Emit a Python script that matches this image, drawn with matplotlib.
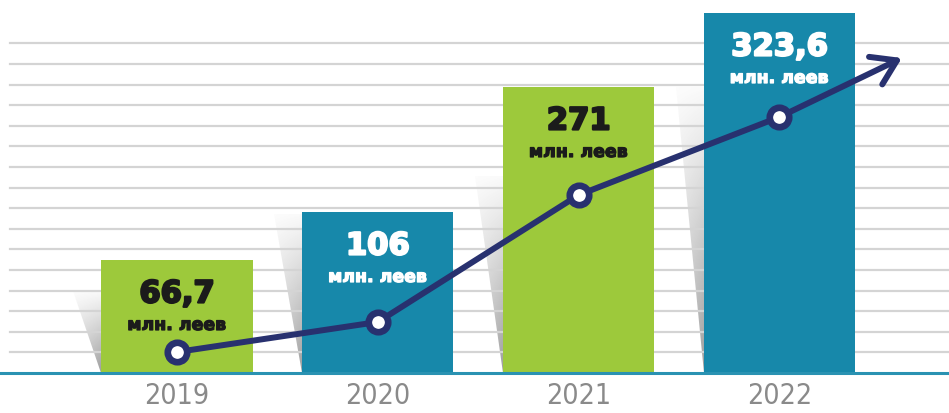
"""Annual volume, million leva, 2019-2022: bars with rising trend arrow.

Outputs
-------
  out.png
"""

import matplotlib
matplotlib.use("Agg")
import matplotlib.pyplot as plt
import matplotlib.patheffects as pe
import numpy as np
from matplotlib.patches import Polygon

YEARS       = ["2019", "2020", "2021", "2022"]
VALUE_TEXT  = ["66,7", "106", "271", "323,6"]
UNIT_TEXT   = "млн. леев"
# drawn bar heights (the original is not to scale)
BAR_HEIGHT  = [113, 161, 286, 360]
TREND       = [21, 51, 178, 256]
SHADOW_TOP  = [82, 159, 197, 286]

GREEN = "#9dc93b"
TEAL  = "#1788aa"
NAVY  = "#28316f"
GRID  = "#d4d4d4"

BAR_COLORS  = [GREEN, TEAL, GREEN, TEAL]
TEXT_COLORS = ["#1b1b1b", "white", "#1b1b1b", "white"]

NUM_FONT  = ["DejaVu Sans"]
YEAR_FONT = ["Liberation Sans Narrow", "DejaVu Sans"]

W_PX, H_PX = 949, 414
BASE_PX    = 40          # baseline height above the bottom edge
BAR_W      = 0.752
GRID_STEP  = 20.6
ARROW_TIP  = (3.61, 315)


def _draw_shadow(ax, x_right, top, width):
    """Grey perspective wedge on the left side of a bar."""
    tri = Polygon([(x_right - width, top), (x_right, top), (x_right, 0)],
                  closed=True, facecolor="none", edgecolor="none")
    ax.add_patch(tri)
    ny, nx = 64, 16
    yy = np.linspace(1, 0, ny)[:, None]
    xx = np.linspace(0, 1, nx)[None, :]
    img = np.zeros((ny, nx, 4))
    img[..., :3] = 0.45
    img[..., 3] = (0.04 + 0.65 * (1 - yy)) * (0.55 + 0.45 * xx)
    im = ax.imshow(img, extent=(x_right - width, x_right, 0, top),
                   origin="upper", aspect="auto", interpolation="bilinear",
                   zorder=0.5)
    im.set_clip_path(tri)


def main():
    fig = plt.figure(figsize=(W_PX / 100, H_PX / 100), dpi=100)
    ax = fig.add_axes([0, BASE_PX / H_PX, 1, 1 - BASE_PX / H_PX])

    x = np.arange(len(YEARS))

    for k in range(1, 17):
        ax.axhline(k * GRID_STEP, xmin=10 / W_PX, color=GRID, lw=1.6, zorder=1)

    for xi, top in zip(x, SHADOW_TOP):
        _draw_shadow(ax, xi - BAR_W / 2, top, 0.14)

    ax.bar(x, BAR_HEIGHT, width=BAR_W, color=BAR_COLORS, zorder=2)

    for xi, h, val, col in zip(x, BAR_HEIGHT, VALUE_TEXT, TEXT_COLORS):
        heavy = [pe.withStroke(linewidth=1.6, foreground=col)]
        ax.text(xi, h - 34, val, ha="center", va="center", fontsize=22,
                fontweight="bold", family=NUM_FONT, color=col, zorder=3,
                path_effects=heavy)
        ax.text(xi, h - 65, UNIT_TEXT, ha="center", va="center", fontsize=12.5,
                fontweight="bold", family=NUM_FONT, color=col, zorder=3,
                path_effects=[pe.withStroke(linewidth=0.9, foreground=col)])

    # trend line with arrow
    ax.plot(x, TREND, color=NAVY, lw=4.3, solid_capstyle="round",
            solid_joinstyle="round", zorder=4)
    ax.annotate("", xy=ARROW_TIP, xytext=(x[-1], TREND[-1]),
                arrowprops=dict(arrowstyle="->,head_length=17,head_width=11",
                                mutation_scale=1, color=NAVY, lw=4.3,
                                shrinkA=0, shrinkB=0, capstyle="round",
                                joinstyle="round"),
                zorder=4)
    ax.plot(x, TREND, "o", ms=14, mfc="white", mec=NAVY, mew=4.8, zorder=5)

    ax.set_xlim(-177 / 200.8, (W_PX - 177) / 200.8)
    ax.set_ylim(0, H_PX - BASE_PX)

    ax.set_xticks(x, YEARS)
    for lab in ax.get_xticklabels():
        lab.set_family(YEAR_FONT)
        lab.set_fontstretch("condensed")
        lab.set_fontsize(20.5)
        lab.set_color("#8a8a8a")
    ax.tick_params(axis="x", length=0, pad=6)
    ax.set_yticks([])
    ax.spines[["top", "right", "left"]].set_visible(False)
    ax.spines["bottom"].set_color("#2a92b2")
    ax.spines["bottom"].set_linewidth(2.2)
    ax.spines["bottom"].set_zorder(3)

    fig.savefig("out.png", dpi=100)
    plt.close(fig)


if __name__ == "__main__":
    main()
